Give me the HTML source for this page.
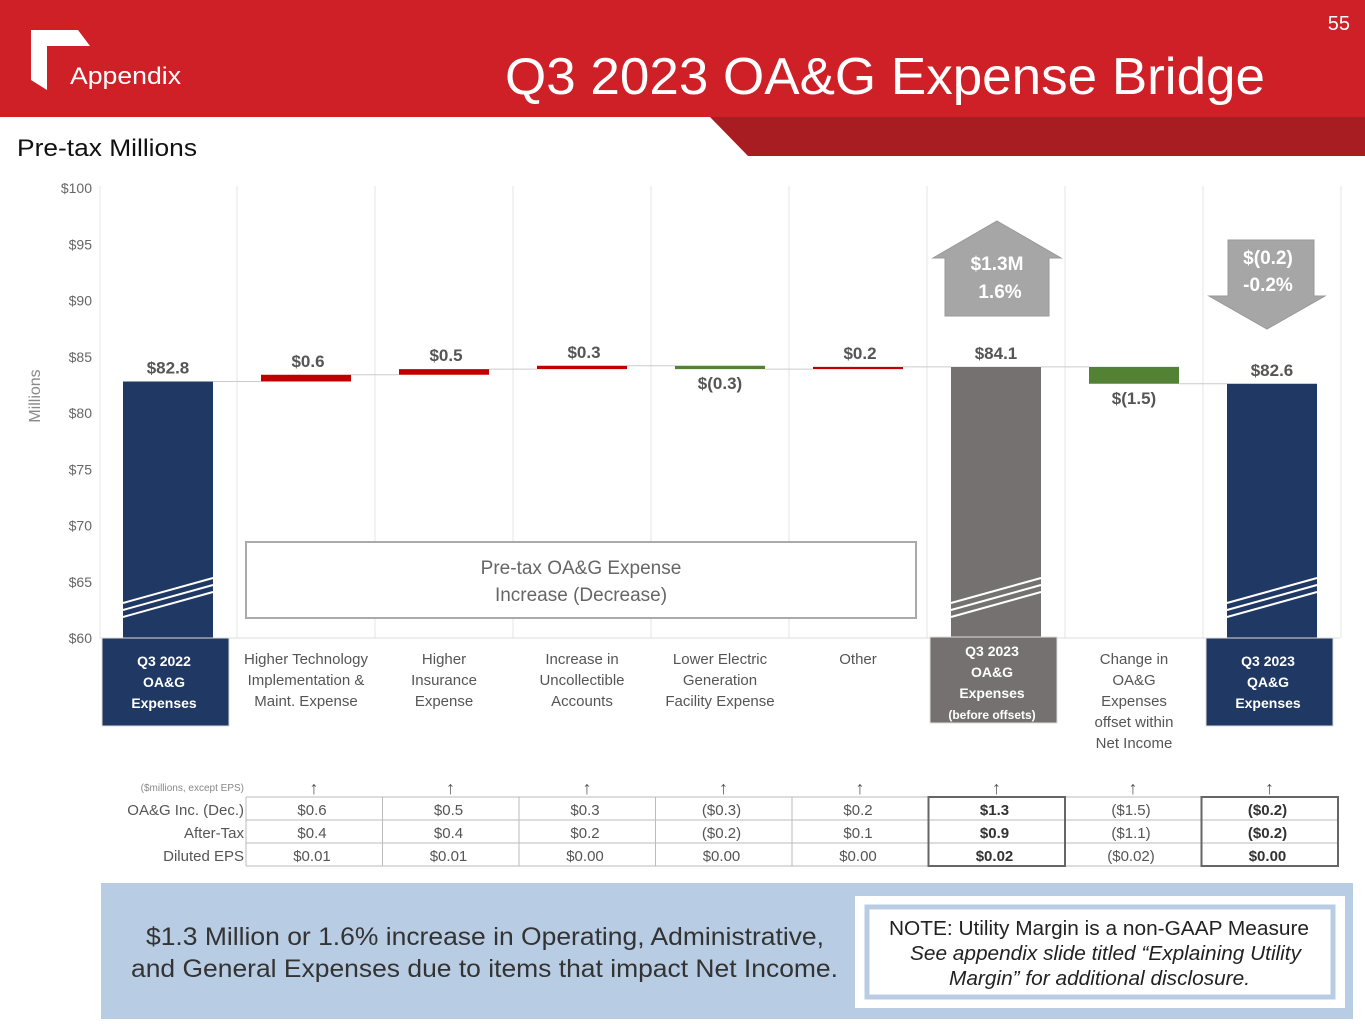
<!DOCTYPE html>
<html><head><meta charset="utf-8"><style>
body{margin:0;width:1365px;height:1024px;overflow:hidden;background:#fff;font-family:"Liberation Sans",sans-serif}
svg{position:absolute;left:0;top:0}
</style></head><body>
<svg id="s" width="1365" height="1024" xmlns="http://www.w3.org/2000/svg" font-family="Liberation Sans, sans-serif">
<rect x="0" y="0" width="1365" height="117" fill="#cf1f27"/>
<polygon points="710,117 1365,117 1365,156 748,156" fill="#a81d22"/>
<polygon points="31,30 78,30 90,46 47,46 47,90 31,80" fill="#fff"/>
<text x="70" y="84" fill="#fff" font-size="24" textLength="111" lengthAdjust="spacingAndGlyphs">Appendix</text>
<text x="505" y="94" fill="#fff" font-size="52" textLength="760" lengthAdjust="spacingAndGlyphs">Q3 2023 OA&amp;G Expense Bridge</text>
<text x="1350" y="30" fill="#fff" font-size="20" text-anchor="end">55</text>
<text x="17" y="156" fill="#111" font-size="24" textLength="180" lengthAdjust="spacingAndGlyphs">Pre-tax Millions</text>
<g id="chart"></g>
<g id="tbl"></g>
<rect x="101" y="883" width="1252" height="136" fill="#b8cce4"/>
<text font-size="25" fill="#333"><tspan x="146" y="945" textLength="678" lengthAdjust="spacingAndGlyphs">$1.3 Million or 1.6% increase in Operating, Administrative,</tspan><tspan x="131" y="977" textLength="707" lengthAdjust="spacingAndGlyphs">and General Expenses due to items that impact Net Income.</tspan></text>
<rect x="855" y="896" width="490" height="112" fill="#fff"/>
<rect x="867" y="907" width="466" height="90" fill="#fff" stroke="#b8cce4" stroke-width="5"/>
<text font-size="20" fill="#222"><tspan x="889" y="935" textLength="420" lengthAdjust="spacingAndGlyphs">NOTE: Utility Margin is a non-GAAP Measure</tspan><tspan x="910" y="960" font-style="italic" textLength="391" lengthAdjust="spacingAndGlyphs">See appendix slide titled “Explaining Utility</tspan><tspan x="949" y="985" font-style="italic" textLength="301" lengthAdjust="spacingAndGlyphs">Margin” for additional disclosure.</tspan></text>
</svg>
<script>
const categories=[["Q3 2022","OA&G","Expenses"],["Higher Technology","Implementation &","Maint. Expense"],["Higher","Insurance","Expense"],["Increase in","Uncollectible","Accounts"],["Lower Electric","Generation","Facility Expense"],["Other"],["Q3 2023","OA&G","Expenses","(before offsets)"],["Change in","OA&G","Expenses","offset within","Net Income"],["Q3 2023","QA&G","Expenses"]];
const values=[82.8,0.6,0.5,0.3,-0.3,0.2,84.1,-1.5,82.6];
const kinds=["total","delta","delta","delta","delta","delta","total","delta","total"];
const valueLabels=["$82.8","$0.6","$0.5","$0.3","$(0.3)","$0.2","$84.1","$(1.5)","$82.6"];
const yTicks=[60,65,70,75,80,85,90,95,100];
const rowOag=["$0.6","$0.5","$0.3","($0.3)","$0.2","$1.3","($1.5)","($0.2)"];
const rowAfter=["$0.4","$0.4","$0.2","($0.2)","$0.1","$0.9","($1.1)","($0.2)"];
const rowEps=["$0.01","$0.01","$0.00","$0.00","$0.00","$0.02","($0.02)","$0.00"];
const NS="http://www.w3.org/2000/svg";
function el(p,t,a,txt){const e=document.createElementNS(NS,t);for(const k in a)e.setAttribute(k,a[k]);if(txt!=null)e.textContent=txt;p.appendChild(e);return e;}
const y=v=>188+(100-v)*11.25;
const cx=i=>168+i*138;
const g=document.getElementById('chart');
for(let i=0;i<=9;i++){const l=el(g,'line',{x1:100+i*138-(i==0?0:1),x2:100+i*138-(i==0?0:1),y1:186,y2:638,stroke:'#e4e4e4'});

}
el(g,'line',{x1:100,x2:1340,y1:638,y2:638,stroke:'#ddd'});
yTicks.forEach(v=>{const t=el(g,'text',{x:92,y:y(v)+5,'text-anchor':'end','font-size':14,fill:'#666'},'$'+v);

});
const yt=el(g,'text',{x:40,y:396,'text-anchor':'middle','font-size':16,fill:'#888',transform:'rotate(-90 40 396)'},'Millions');


let run=0;
const totalColors=["#1f3864","","","","","","#767171","","#1f3864"];
values.forEach((v,i)=>{
  let top,bot,fill,lbl,ly;
  if(kinds[i]=='total'){top=y(v);bot=y(60);fill=totalColors[i];run=v;ly=top-8;}
  else{const s=run,e=run+v;top=y(Math.max(s,e));bot=y(Math.min(s,e));fill=v>=0?'#c00000':'#548235';run=e;ly=v>=0?top-8:bot+20;}
  const h=Math.max(bot-top,2);
  const r=el(g,'rect',{x:cx(i)-45,y:top,width:90,height:h,fill:fill});
  
  
  if(i<values.length-1){const c=el(g,'line',{x1:cx(i)+45,x2:cx(i+1)-45,y1:y(run),y2:y(run),stroke:'#ccc'});
  
  }
  if(kinds[i]=='total'){for(let k=0;k<3;k++){el(g,'line',{x1:cx(i)-45,x2:cx(i)+45,y1:bot-35+k*7,y2:bot-60+k*7,stroke:'#fff','stroke-width':2});}}
  const t=el(g,'text',{x:cx(i)+(kinds[i]=='delta'&&v>=0?2:0),y:ly,'text-anchor':'middle','font-size':17,'font-weight':'bold',fill:'#555'},valueLabels[i]);
  
  
  const lines=categories[i];
  if(kinds[i]=='total'){
    const bh=i==6?86:88;
    const b=el(g,'rect',{x:cx(i)-66,y:i==6?637:638,width:127,height:bh,fill:totalColors[i],stroke:'#ddd'});
    
    
    lines.forEach((s,k)=>{const t2=el(g,'text',{x:cx(i)-4,y:(i==6?656:666)+k*21,'text-anchor':'middle','font-size':k==3?12:14,'font-weight':'bold',fill:'#fff'},s);
    
    });
  }else{
    lines.forEach((s,k)=>{const t2=el(g,'text',{x:cx(i),y:664+k*21,'text-anchor':'middle','font-size':15,fill:'#555'},s);
    
    });
  }
});
const bx=el(g,'rect',{x:246,y:542,width:670,height:76,fill:'#fff',stroke:'#aaa','stroke-width':2});


el(g,'text',{x:581,y:574,'text-anchor':'middle','font-size':19,fill:'#666'},'Pre-tax OA&G Expense');
el(g,'text',{x:581,y:601,'text-anchor':'middle','font-size':19,fill:'#666'},'Increase (Decrease)');
const up=el(g,'polygon',{points:'997,221 1061,258 1049,258 1049,316 945,316 945,258 933,258',fill:'#a6a6a6',stroke:'#999'});


el(g,'text',{x:997,y:270,'text-anchor':'middle','font-size':19,'font-weight':'bold',fill:'#fff'},'$1.3M');
el(g,'text',{x:1000,y:298,'text-anchor':'middle','font-size':19,'font-weight':'bold',fill:'#fff'},'1.6%');
const dn=el(g,'polygon',{points:'1228,240 1314,240 1314,296 1325,296 1267,329 1209,296 1228,296',fill:'#a6a6a6',stroke:'#999'});


el(g,'text',{x:1268,y:264,'text-anchor':'middle','font-size':19,'font-weight':'bold',fill:'#fff'},'$(0.2)');
el(g,'text',{x:1268,y:291,'text-anchor':'middle','font-size':19,'font-weight':'bold',fill:'#fff'},'-0.2%');
const tb=document.getElementById('tbl');
el(tb,'text',{x:244,y:791,'text-anchor':'end','font-size':10,fill:'#888'},'($millions, except EPS)');
const rows=[["OA&G Inc. (Dec.)",rowOag],["After-Tax",rowAfter],["Diluted EPS",rowEps]];
const tx=i=>246+i*136.5;
for(let i=0;i<8;i++){const a=el(tb,'text',{x:tx(i)+68,y:794,'text-anchor':'middle','font-size':18,fill:'#555','font-weight':'bold'},'↑');

}
rows.forEach((r,ri)=>{
  const ry=797+ri*23;
  el(tb,'text',{x:244,y:ry+18,'text-anchor':'end','font-size':15,fill:'#555'},r[0]);
  r[1].forEach((s,i)=>{
    const bold=(i==5||i==7);
    const t=el(tb,'text',{x:tx(i)+66,y:ry+18,'text-anchor':'middle','font-size':15,fill:bold?'#333':'#555','font-weight':bold?'bold':'normal'},s);
    
    
  });
});
for(let k=0;k<=3;k++)el(tb,'line',{x1:246,x2:1338,y1:797+k*23,y2:797+k*23,stroke:'#bbb'});
for(let i=0;i<=8;i++)el(tb,'line',{x1:tx(i),x2:tx(i),y1:797,y2:866,stroke:'#bbb'});
[5,7].forEach(i=>el(tb,'rect',{x:tx(i),y:797,width:136.5,height:69,fill:'none',stroke:'#666','stroke-width':2}));
</script>
</body></html>
